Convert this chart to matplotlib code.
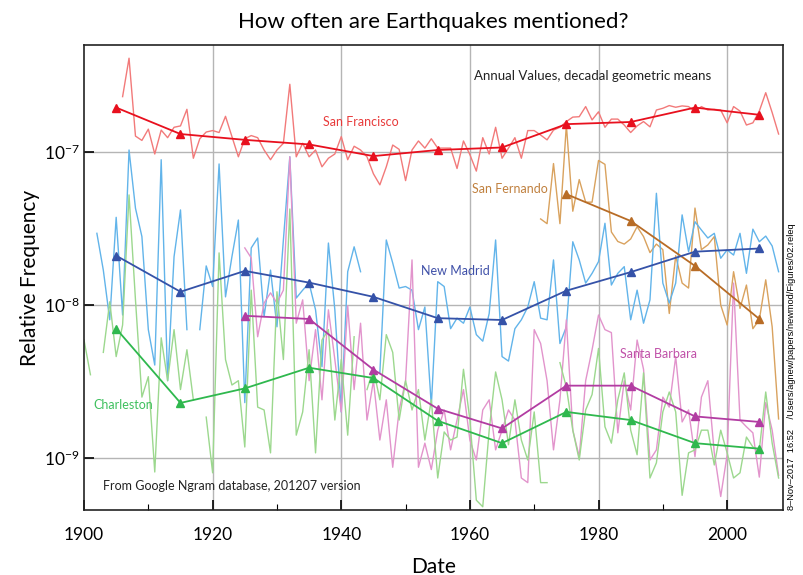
import numpy as np
import matplotlib
matplotlib.use('Agg')
import matplotlib.pyplot as plt

# annual relative frequencies, in units of 1e-9 (None = no data that year)
years = np.arange(1900, 2009)

sf_start = 1906
sf_annual = [230, 410, 127, 119, 141, 97, 139, 124, 145, 148,
             190, 91, 122, 135, 138, 134, 171, 126, 93, 122,
             128, 124, 103, 89, 103, 114, 277, 93, 114, 93,
             103, 80, 91, 97, 126, 89, 109, 103, 93, 72,
             61, 80, 111, 104, 65, 103, 118, 106, 122, 106,
             106, 106, 78, 118, 96, 75, 124, 97, 145, 91,
             106, 124, 91, 138, 138, 129, 120, 139, 145, 158,
             169, 170, 198, 162, 183, 145, 164, 164, 150, 134,
             148, 158, 146, 188, 193, 201, 196, 200, 198, 183,
             198, 188, 190, 188, 155, 198, 185, 150, 155, 185,
             244, 181, 131]

sfer_start = 1971
sfer_annual = [36.5, 34, 84, 34, 150, 41, 66, 47, 47, 88,
               83, 30, 26, 25, 27, 32.5, 28, 22, 25, 23,
               8.8, 21, 13.9, 12.9, 43, 23, 24.7, 28, 10, 7.4,
               16.5, 9.5, 13.5, 7.0, 8.0, 14.6, 7.2, 1.8]

nm_start = 1902
nm_annual = [29.4, 16.9, 8.0, 37.4, 8.6, 103, 42.9, 28.0,
             6.9, 4.05, 89, 3.2, 20.7, 41.8, 6.9, None, 6.9, 18.0,
             13.2, 83.5, 11.3, 20.7, 35.9, 2.3, 23.6, 27.4, 8.4, 16.9,
             7.2, 26.6, 93, 11.1, 12.5, 13.9, 9.3, 3.95, 25.4, 9.3,
             2.0, 16.5, 24.0, 16.5, None, None, 3.6, 26.6, 18.8, 12.9,
             13.2, 12.5, 6.9, 9.7, 2.2, 14.2, 13.2, 7.0, 8.2, 7.6,
             9.7, 6.4, 5.8, 8.8, 26.6, 4.6, 4.3, 7.0, 8.0, 9.7,
             14.2, 8.2, 8.0, 19.7, 5.6, 7.2, 25.9, 19.7, 13.9, 16.1,
             19.2, 34.2, 13.5, 16.1, 17.8, 8.0, 12.5, 7.6, 10.8, 53.7,
             13.9, 10.3, 13.9, 38.8, 22.3, 35.0, 30.9, 27.4, 29.4, 20.2,
             22.9, 21.2, 29.4, 16.1, 31.3, 25.9, 28.2, 24.3, 16.5]

sb_start = 1925
sb_annual = [23.6, 20.3, 6.2, 10.3, 12.0,
             10.3, 12.5, 93, 7.6, 10.8, 3.2, 6.9, 2.4, 9.3, 4.4,
             2.0, 9.9, 2.8, 7.6, 1.77, 3.2, 1.31, 2.4, 0.87, 2.06,
             3.2, 19.7, 0.87, 1.25, 0.84, 1.52, 2.06, 1.13, 1.77, 2.8,
             1.31, 0.97, 2.06, 2.4, 1.13, 1.52, 2.06, 1.77, 0.74, 0.69,
             6.9, 5.6, 3.2, 1.13, 2.4, 8.0, 1.52, 1.02, 3.2, 5.1,
             8.6, 6.9, 6.6, 1.46, 3.2, 2.06, 5.9, 3.8, 0.97, 1.13,
             2.5, 2.15, 4.6, 1.72, 2.06, 1.02, 2.5, 3.2, 1.08, 0.56,
             1.05, 13.9, 1.77, 1.6, 1.46, 0.75, 2.3, 1.52, 0.77]

ch_start = 1900
ch_annual = [5.9, 3.5, None, 4.9, 10.5, 4.6, 7.4, 52.4, 10.8, 2.5,
             3.4, 0.81, 6.1, 3.2, 6.9, 2.8, 5.1, 2.4, None, 1.85,
             0.80, 21.9, 4.4, 3.0, 3.2, 1.18, 12.5, 2.15, 2.06, 1.08,
             12.2, 4.4, 42.4, 1.41, 2.0, 5.1, 1.08, 5.9, 6.9, 1.77,
             4.4, 1.41, 6.2, None, 2.8, 3.8, 2.4, 6.4, 4.9, 1.77,
             3.2, 2.06, 2.8, 1.31, 2.4, 0.74, 1.48, 1.31, 1.37, 3.8,
             1.77, 0.53, 0.48, 1.52, 3.65, 2.4, 1.22, 2.4, 1.31, 0.97,
             2.0, 0.69, 0.69, None, 4.2, 2.9, 1.52, 0.97, 2.06, 2.6,
             5.2, 1.6, 1.25, 2.4, 3.6, 1.52, 1.05, 3.6, 0.74, 0.93,
             2.0, 2.7, 2.0, 0.57, 1.08, 1.13, 1.52, 1.52, 0.90, 1.52,
             1.08, 0.74, 0.80, 1.37, 1.18, 1.13, 2.7, 1.25, 0.74]

# decadal geometric means (plotted at mid-decade), units of 1e-9
dec_years = np.arange(1905, 2006, 10)
sf_mean = [195, 131, 120, 112, 94, 103, 107, 152, 157, 195, 175]
sfer_mean = [None] * 7 + [53, 35.4, 18, 8.1]
nm_mean = [21, 12.2, 16.7, 14.0, 11.3, 8.2, 7.98, 12.4, 16.4, 22.3, 23.4]
sb_mean = [None, None, 8.5, 8.1, 3.78, 2.1, 1.56, 2.97, 2.97, 1.87, 1.72]
ch_mean = [7.0, 2.29, 2.85, 3.89, 3.33, 1.75, 1.25, 2.0, 1.77, 1.25, 1.15]


def to_series(start, vals):
    out = np.full(len(years), np.nan)
    for i, v in enumerate(vals):
        if v is not None:
            out[start - 1900 + i] = v * 1e-9
    return out


def to_means(vals):
    return np.array([np.nan if v is None else v * 1e-9 for v in vals])


plt.rcParams['font.family'] = ['Lato', 'DejaVu Sans']

fig = plt.figure(figsize=(8.04, 5.75), dpi=100)
ax = fig.add_axes([0.1045, 0.113, 0.8695, 0.8087])

series = [
    (sf_start, sf_annual, sf_mean, '#f27a7a', '#e8101e'),
    (sfer_start, sfer_annual, sfer_mean, '#d9a25e', '#b86c26'),
    (nm_start, nm_annual, nm_mean, '#62b4ea', '#3552a8'),
    (sb_start, sb_annual, sb_mean, '#e294cc', '#b23ca2'),
    (ch_start, ch_annual, ch_mean, '#9cd88e', '#2fb84e'),
]
for start, annual, means, light, dark in series:
    ax.plot(years, to_series(start, annual), color=light, lw=1.0, zorder=2)
for start, annual, means, light, dark in series:
    m = to_means(means)
    ok = ~np.isnan(m)
    ax.plot(dec_years[ok], m[ok], color=dark, lw=1.3, marker='^', ms=5.5, zorder=3)

ax.set_yscale('log')
ax.set_xlim(1900, 2008.7)
ax.set_ylim(4.57e-10, 5.0e-7)

ax.set_yticks([1e-9, 1e-8, 1e-7])
ax.set_yticklabels([r'$\mathregular{10^{-9}}$', r'$\mathregular{10^{-8}}$', r'$\mathregular{10^{-7}}$'])
ax.yaxis.set_minor_locator(matplotlib.ticker.NullLocator())
ax.set_xticks(np.arange(1900, 2001, 20))
ax.set_xticks(np.arange(1910, 2009, 10), minor=True)
ax.tick_params(axis='both', which='major', direction='in', labelsize=12.5, length=7, width=1.2)
ax.tick_params(axis='y', which='major', pad=3)
ax.tick_params(axis='x', which='major', pad=12)
ax.tick_params(axis='x', which='minor', direction='in', length=4, width=0.8)

for yv in [1e-9, 1e-8, 1e-7]:
    ax.axhline(yv, color='#b5b5b5', lw=1.0, zorder=1)
for xv in [1920, 1940, 1960, 1980, 2000]:
    ax.axvline(xv, color='#b5b5b5', lw=1.0, zorder=1)
for s in ax.spines.values():
    s.set_linewidth(1.2)
    s.set_color('#222222')

ax.set_xlabel('Date', fontsize=15, labelpad=10)
ax.set_ylabel('Relative Frequency', fontsize=15, labelpad=3)
fig.text(0.5386, 0.962, 'How often are Earthquakes mentioned?', ha='center', va='center', fontsize=16)

ax.text(1960.6, 2.95e-7, 'Annual Values, decadal geometric means', fontsize=9.5, color='#222222')
ax.text(1937.2, 1.47e-7, 'San Francisco', fontsize=9, color='#e83a3a')
ax.text(1960.4, 5.4e-8, 'San Fernando', fontsize=9, color='#c0803e')
ax.text(1952.4, 1.57e-8, 'New Madrid', fontsize=9, color='#3f50a8')
ax.text(1983.3, 4.5e-9, 'Santa Barbara', fontsize=9, color='#c050a8')
ax.text(1901.5, 2.1e-9, 'Charleston', fontsize=9, color='#3fc05e')
ax.text(1903.0, 6.2e-10, 'From Google Ngram database, 201207 version', fontsize=9, color='#222222')

fig.text(0.985, 0.113, '8\u2013Nov\u20132017  16:52    /Users/agnew/papers/newmod/Figures/02.releq',
         rotation=90, ha='center', va='bottom', fontsize=6.7, family='Liberation Sans')

fig.savefig('out.png', dpi=100)
